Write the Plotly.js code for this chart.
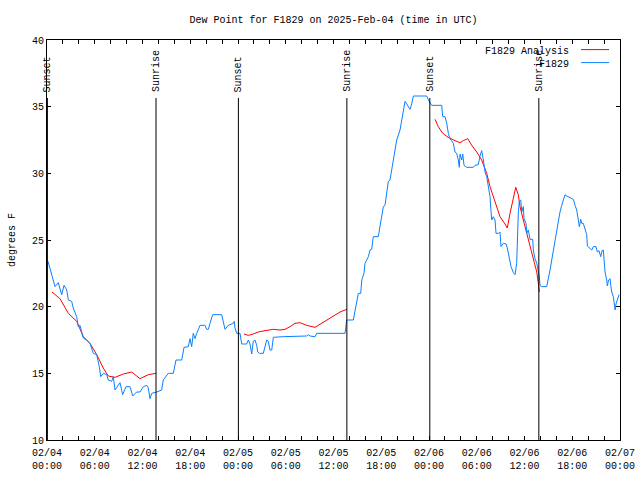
<!DOCTYPE html>
<html>
<head>
<meta charset="utf-8">
<script src="https://cdn.plot.ly/plotly-3.0.1.min.js"></script>
<style>html,body{margin:0;padding:0;background:#fff;}#chart{width:640px;height:480px;}</style>
</head>
<body>
<div id="chart"></div>
<script>
// Hours since 2025-02-04 00:00 UTC
const stationHours = [0.13,0.59,1.01,1.42,1.85,2.14,2.48,2.68,3.10,3.30,3.73,3.93,4.15,4.36,4.56,4.99,5.40,5.82,6.25,6.57,6.75,7.07,7.50,7.70,8.13,8.33,8.55,9.17,9.51,9.93,10.43,10.77,11.27,11.69,12.10,12.53,12.73,12.94,13.16,13.79,14.41,14.61,15.04,15.24,15.87,16.21,16.93,17.22,17.76,17.97,18.18,18.38,18.60,18.81,19.23,19.85,20.07,20.27,20.48,20.82,21.95,22.15,22.37,22.78,23.41,23.54,23.62,23.84,24.25,24.47,25.09,25.30,25.51,25.72,25.92,26.14,26.35,26.48,26.68,27.18,27.39,27.61,27.81,28.02,28.24,28.44,29.69,31.38,32.63,32.84,33.05,33.68,33.89,37.45,37.66,38.49,38.70,38.92,39.12,39.42,39.55,39.83,39.96,40.38,40.59,40.80,40.93,41.00,41.63,41.85,42.06,42.18,42.26,42.47,42.69,42.89,43.10,43.32,43.52,43.73,43.94,44.36,44.57,44.77,44.99,45.20,45.40,45.61,45.83,46.03,47.71,47.92,48.34,49.60,49.72,50.01,50.23,50.43,50.64,51.06,51.27,51.48,51.65,51.81,51.90,52.11,52.24,52.40,52.74,53.57,53.78,54.20,54.41,54.62,54.83,55.04,55.25,55.45,55.67,55.76,55.88,56.08,56.30,56.42,56.71,56.92,57.05,57.34,57.68,57.84,58.09,58.31,58.60,58.81,59.02,59.10,59.22,59.35,59.53,59.65,59.85,59.94,60.19,60.28,60.48,60.69,61.03,61.11,61.32,61.54,61.74,61.86,61.95,62.16,62.79,62.99,63.21,63.42,63.62,63.84,64.05,64.25,64.46,64.68,64.88,65.09,65.31,65.72,66.14,66.35,66.56,66.76,66.89,67.07,67.19,67.39,67.61,67.82,67.90,68.23,68.45,68.65,68.99,69.15,69.36,69.58,69.74,69.90,70.03,70.12,70.33,70.41,70.56,70.75,70.84,70.96,71.16,71.25,71.38,71.50,71.67,71.88];
const stationDew = [23.4,22.5,21.5,21.8,20.9,21.6,21.25,20.5,20.4,19.9,19.25,18.5,18.6,18.1,17.65,17.5,17.25,16.5,16.4,15.5,14.75,15.0,14.9,14.5,14.4,14.75,13.75,14.3,13.4,14.0,14.0,13.3,13.6,13.6,14.0,14.1,13.9,13.1,13.5,13.6,13.75,14.5,14.9,15.0,15.0,16.0,16.0,16.95,17.0,17.6,17.0,18.0,17.6,18.0,18.6,18.6,18.3,18.3,18.75,19.4,19.4,18.75,18.3,18.6,18.75,18.9,18.4,18.0,18.0,17.2,17.2,17.5,17.2,16.45,17.4,17.5,17.1,16.6,16.5,16.5,17.1,17.5,17.4,16.75,16.75,17.7,17.75,17.75,17.8,17.9,17.8,17.75,18.0,18.0,19.0,19.0,19.75,20.25,21.0,21.0,22.0,22.5,23.25,23.75,24.25,24.3,25.0,25.25,25.25,26.0,26.5,27.0,27.5,27.6,28.4,29.4,29.5,30.25,31.0,31.75,32.5,33.25,33.9,34.5,35.4,35.2,35.0,34.8,35.2,35.8,35.8,35.5,35.1,35.1,34.25,34.25,33.75,33.0,32.6,32.25,31.6,31.5,31.1,30.45,31.45,31.0,31.45,30.6,30.45,30.45,30.6,30.65,31.3,31.7,31.0,30.1,29.75,29.0,28.25,27.4,26.5,26.75,26.5,25.5,25.5,25.6,24.5,24.75,24.7,24.4,23.75,23.0,22.55,22.4,23.25,25.0,27.0,27.9,28.0,27.1,27.5,26.6,26.25,25.5,25.75,25.05,25.05,24.25,23.6,23.25,22.75,22.25,21.6,21.5,21.5,22.0,22.75,23.5,24.25,25.0,25.75,26.5,27.1,27.6,28.0,28.4,28.3,28.2,28.05,27.6,27.25,26.5,26.0,26.55,26.25,26.25,25.75,25.4,24.55,24.4,24.25,24.5,24.5,24.1,24.2,23.75,24.2,24.25,23.4,22.6,22.0,21.55,22.0,22.1,21.6,21.1,20.75,20.05,19.75,20.2,20.6,20.9];

const analysisHours = [0.63,1.63,2.68,3.73,4.56,5.40,6.25,7.07,7.70,8.55,9.59,10.64,11.69,12.73,13.70,null,24.76,25.30,25.92,26.55,27.39,28.44,29.28,29.91,30.54,31.16,31.79,32.63,33.68,34.52,35.35,36.19,36.82,37.66,null,48.76,49.17,49.72,50.43,51.27,51.90,52.31,52.87,53.37,54.00,54.62,55.25,55.67,56.30,56.92,57.55,57.84,58.18,58.60,58.90,59.22,59.44,59.85,60.28,60.69,61.11,61.54,61.74,61.86];
const analysisDew = [21.1,20.6,19.5,18.9,17.75,17.25,16.4,15.4,14.8,14.7,14.95,15.1,14.6,14.9,15.0,null,17.95,17.85,17.95,18.1,18.2,18.3,18.25,18.3,18.5,18.75,18.8,18.6,18.45,18.75,19.05,19.4,19.6,19.8,null,34.05,33.5,33.0,32.7,32.45,32.3,32.45,32.6,32.1,31.6,31.0,30.0,29.0,27.9,26.75,26.2,25.9,27.0,28.25,28.95,28.4,27.5,26.5,25.5,24.75,23.75,22.6,21.75,21.1];

const sunEventHours = [0.05, 13.70, 24.05, 37.68, 48.10, 61.80];
const sunEventNames = ["Sunset","Sunrise","Sunset","Sunrise","Sunset","Sunrise"];

const seriesNames = ["F1829 Analysis", "F1829"];
const seriesColors = ["#ff0000", "#0a80ff"];
const titleText = "Dew Point for F1829 on 2025-Feb-04 (time in UTC)";
const yTitle = "degrees F";

const startMs = Date.UTC(2025, 1, 4, 0, 0, 0);
function pad(n){return (n<10?"0":"")+n;}
function toDate(h){
  if (h === null) return null;
  const d = new Date(startMs + Math.round(h*3600000));
  return d.getUTCFullYear()+"-"+pad(d.getUTCMonth()+1)+"-"+pad(d.getUTCDate())+" "+pad(d.getUTCHours())+":"+pad(d.getUTCMinutes())+":"+pad(d.getUTCSeconds());
}

const FONT = "Liberation Mono, DejaVu Sans Mono, monospace";

const traces = [
  {x: analysisHours.map(toDate), y: analysisDew, type:"scatter", mode:"lines", name: seriesNames[0],
   line:{color: seriesColors[0], width:1}, connectgaps:false, showlegend:false},
  {x: stationHours.map(toDate), y: stationDew, type:"scatter", mode:"lines", name: seriesNames[1],
   line:{color: seriesColors[1], width:1}, showlegend:false}
];

const shapes = [];
const annotations = [];
sunEventHours.forEach((h,i)=>{
  shapes.push({type:"line", xref:"x", yref:"paper", x0:toDate(h), x1:toDate(h), y0:0, y1:0.855,
    line:{color:"#000", width:1}});
  annotations.push({text: sunEventNames[i], xref:"x", yref:"paper", x: toDate(h), y:0.865,
    xanchor:"center", yanchor:"bottom", textangle:-90, showarrow:false,
    font:{family:FONT, size:10, color:"#000"}});
});
// legend (gnuplot style: text right-aligned, sample line on the right)
[0,1].forEach(i=>{
  const yl = 0.976 - i*0.0325;
  annotations.push({text: seriesNames[i], xref:"paper", yref:"paper", x:0.9145, y:yl - 0.005,
    xanchor:"right", yanchor:"middle", showarrow:false, font:{family:FONT, size:10, color:"#000"}});
  shapes.push({type:"line", xref:"paper", yref:"paper", x0:0.932, x1:0.981, y0:yl, y1:yl,
    line:{color: seriesColors[i], width:1}});
});

const layout = {
  width:640, height:480,
  margin:{l:47, r:20, t:40, b:40},
  paper_bgcolor:"#fff", plot_bgcolor:"#fff",
  font:{family:FONT, size:10, color:"#000"},
  title:{text:titleText, x:0.5, xref:"paper", xanchor:"center", y:0.96, yref:"container", yanchor:"middle",
         font:{family:FONT, size:10, color:"#000"}},
  xaxis:{type:"date", range:[toDate(0), toDate(72)], dtick:6*3600000, tick0:toDate(0),
    tickformat:"%m/%d<br>%H:%M", ticks:"inside", ticklen:4, tickcolor:"#000",
    ticklabelstandoff:3,
    showline:true, linecolor:"#000", linewidth:1, mirror:"ticks", showgrid:false, zeroline:false,
    tickfont:{family:FONT, size:10, color:"#000"},
    minor:{dtick:2*3600000, tick0:toDate(0), ticks:"inside", ticklen:4, tickcolor:"#000", showgrid:false}},
  yaxis:{range:[10,40], dtick:5, ticks:"inside", ticklen:4, tickcolor:"#000",
    showline:true, linecolor:"#000", linewidth:1, mirror:"ticks", showgrid:false, zeroline:false,
    tickfont:{family:FONT, size:10, color:"#000"},
    title:{text:yTitle, font:{family:FONT, size:10, color:"#000"}, standoff:14}},
  shapes: shapes,
  annotations: annotations,
  showlegend:false
};

Plotly.newPlot("chart", traces, layout, {displayModeBar:false, staticPlot:true});
</script>
</body>
</html>
